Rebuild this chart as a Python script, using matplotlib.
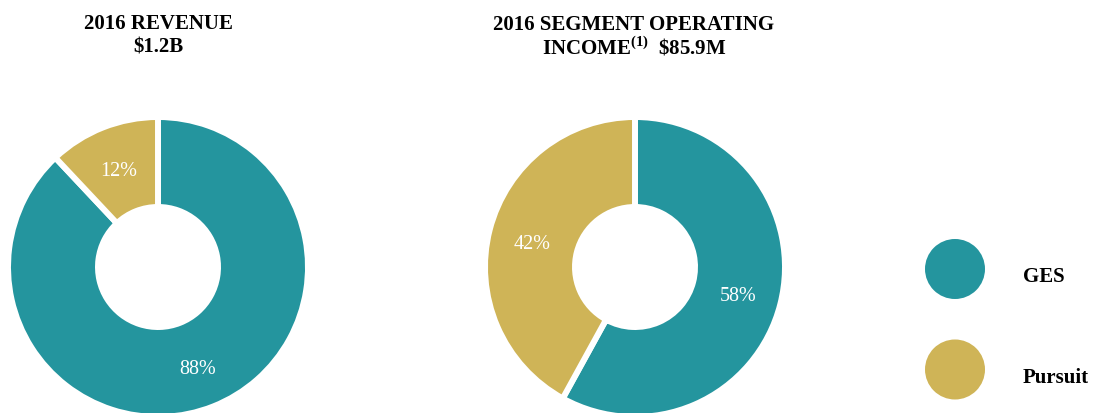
import matplotlib
matplotlib.use("Agg")
import matplotlib.pyplot as plt
from matplotlib.patches import Circle

segments = ["GES", "Pursuit"]
revenue_pct = [88, 12]
income_pct = [58, 42]
colors = ["#24959E", "#CFB457"]

W, H = 1095, 414

plt.rcParams['font.family'] = 'Liberation Serif'
plt.rcParams['mathtext.fontset'] = 'custom'
plt.rcParams['mathtext.rm'] = 'Liberation Serif:bold'


def py(y):
    # pixel rows counted from the top
    return H - y


def donut(ax, values, cx, cy):
    r = 150
    ax.pie(values, colors=colors, center=(cx, py(cy)), radius=r,
           startangle=90, counterclock=False,
           autopct='%.0f%%', pctdistance=0.71,
           textprops=dict(color='white', fontsize=14.5, family='Liberation Serif',
                          va='center_baseline'),
           wedgeprops=dict(width=r - 60, edgecolor='white', linewidth=4.3))


def main():
    fig = plt.figure(figsize=(W / 100, H / 100), dpi=100)
    ax = fig.add_axes([0, 0, 1, 1])

    donut(ax, revenue_pct, 158, 268)
    donut(ax, income_pct, 635, 268)

    ax.set_xlim(0, W)
    ax.set_ylim(0, H)
    ax.set_aspect('equal')
    ax.axis('off')

    tkw = dict(ha='center', va='baseline', fontsize=15, fontweight='bold', color='black')
    ax.text(158, py(29), "2016 REVENUE", **tkw)
    ax.text(158, py(53), r"\$1.2B", **tkw)
    ax.text(634, py(30), "2016 SEGMENT OPERATING", **tkw)
    ax.text(634, py(54), r"INCOME$^{(1)}$  \$85.9M", **tkw)

    # legend
    for i, (name, col) in enumerate(zip(segments, colors)):
        yc = 270 + i * 100.5
        ax.add_patch(Circle((955, py(yc)), 30, color=col, lw=0))
        ax.text(1023, py(yc + 12.5), name, ha='left', va='baseline',
                fontsize=15, fontweight='bold', color='black')

    fig.savefig("out.png", dpi=100)


if __name__ == "__main__":
    main()
